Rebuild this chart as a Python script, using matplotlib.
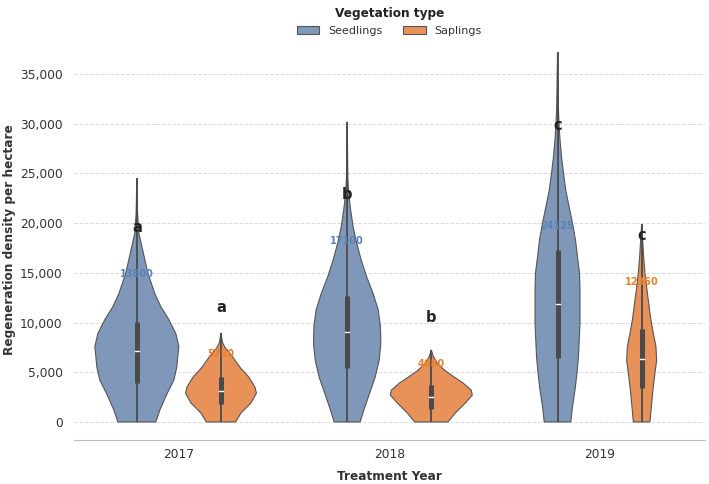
import matplotlib
matplotlib.use("Agg")
import matplotlib.pyplot as plt
from matplotlib.patches import Patch
from matplotlib.ticker import FuncFormatter

years = ["2017", "2018", "2019"]
groups = ["Seedlings", "Saplings"]

# density profiles (value, half width in px)
seed_2017_y = [0, 1200, 2900, 4200, 5500, 7600, 8900, 10300, 11600, 12900, 15000, 17000, 19000, 21000, 24500]
seed_2017_w = [19, 23, 30.5, 37, 40, 42, 39, 32, 24, 18, 11, 6.5, 2, 0.7, 0]
sap_2017_y = [0, 900, 1900, 2900, 3500, 4500, 5500, 6500, 7500, 8000, 8950]
sap_2017_w = [14.7, 20, 30, 35.5, 34, 28, 19, 12, 4, 1.5, 0]

seed_2018_y = [0, 1200, 2900, 4500, 6200, 7900, 9600, 11300, 12900, 14600, 16300, 18000, 19600, 21300, 23000, 24600, 30200]
seed_2018_w = [13, 16.7, 22.5, 28, 32, 33.7, 33.3, 31, 26, 19.5, 14, 9.5, 6, 3.5, 1.5, 0.7, 0]
sap_2018_y = [0, 900, 1900, 2700, 3200, 3900, 4600, 5200, 5900, 6600, 7240]
sap_2018_w = [16.7, 24, 34, 41, 40, 32, 21.7, 13.3, 6, 2, 0]

seed_2019_y = [0, 1540, 3220, 4900, 6600, 9950, 13300, 15000, 16600, 18300, 20000, 21600, 23300, 25000, 26700, 28400, 30000, 31700, 37200]
seed_2019_w = [13.3, 15, 17.5, 19.5, 21, 22.5, 22.5, 22, 20, 18, 15, 11.7, 8.3, 6, 4, 2.5, 1.5, 0.8, 0]
sap_2019_y = [0, 1540, 3220, 4900, 6200, 7600, 8900, 10300, 11600, 13300, 15000, 16600, 18300, 19900]
sap_2019_w = [8.3, 9.7, 11.3, 13.3, 15, 14.3, 11.7, 9.2, 7.5, 5.3, 3.3, 2, 1, 0]

# quartiles (q1, median, q3)
seed_quart = [(3920, 7140, 10060), (5430, 9050, 12670), (6440, 11870, 17300)]
sap_quart = [(1810, 3120, 4530), (1310, 2530, 3720), (3420, 6340, 9350)]

# annotations
seed_letters = ["a", "b", "c"]
sap_letters = ["a", "b", "c"]
seed_letter_y = [19510, 22830, 29870]
sap_letter_y = [11465, 10460, 18710]
seed_labels = ["13800", "17100", "24125"]
sap_labels = ["5750", "4680", "12350"]
seed_label_y = [14880, 18200, 19710]
sap_label_y = [6840, 5830, 14080]

profiles = {
    "Seedlings": [(seed_2017_y, seed_2017_w), (seed_2018_y, seed_2018_w), (seed_2019_y, seed_2019_w)],
    "Saplings": [(sap_2017_y, sap_2017_w), (sap_2018_y, sap_2018_w), (sap_2019_y, sap_2019_w)],
}
quarts = {"Seedlings": seed_quart, "Saplings": sap_quart}
fill = {"Seedlings": "#7f97b8", "Saplings": "#e8925a"}
txtcol = {"Seedlings": "#5a82b5", "Saplings": "#ea7f2c"}
letters = {"Seedlings": (seed_letters, seed_letter_y), "Saplings": (sap_letters, sap_letter_y)}
labels = {"Seedlings": (seed_labels, seed_label_y), "Saplings": (sap_labels, sap_label_y)}
offset = {"Seedlings": -0.2, "Saplings": 0.2}
px = 1 / 210.5  # px -> category units

fig = plt.figure(figsize=(7.09, 4.84), dpi=100)
ax = fig.add_axes([0.104, 0.091, 0.89, 0.828])

for g in groups:
    for i in range(3):
        ys, ws = profiles[g][i]
        xc = i + offset[g]
        xs = [xc - w * px for w in ws] + [xc + w * px for w in ws[::-1]]
        yy = list(ys) + list(ys[::-1])
        ax.fill(xs, yy, facecolor=fill[g], edgecolor="#555555", linewidth=0.8, zorder=2)
        ax.vlines(xc, ys[0], ys[-1], color="#4a4a4a", linewidth=1.3, zorder=3)
        q1, med, q3 = quarts[g][i]
        ax.vlines(xc, q1, q3, color="#4a4a4a", linewidth=3.6, zorder=4)
        ax.plot([xc - 2.0 * px, xc + 2.0 * px], [med, med], color="white", linewidth=1.0, zorder=5)
        let, ly = letters[g]
        ax.text(xc, ly[i], let[i], ha="center", va="center", fontsize=10.5, fontweight="bold", color="#222222", zorder=6)
        lab, lby = labels[g]
        ax.text(xc, lby[i], lab[i], ha="center", va="center", fontsize=7, fontweight="bold", color=txtcol[g], zorder=6)

ax.set_xlim(-0.5, 2.5)
ax.set_ylim(-1810, 38500)
ax.set_xticks(range(3))
ax.set_xticklabels(years)
ax.set_yticks(range(0, 35001, 5000))
ax.yaxis.set_major_formatter(FuncFormatter(lambda v, p: f"{int(v):,}"))
ax.tick_params(axis="both", length=0, labelsize=8.8, labelcolor="#333333")
ax.tick_params(axis="y", pad=8)
ax.tick_params(axis="x", pad=6)
ax.grid(axis="y", color="#dadada", linestyle="--", linewidth=0.7, zorder=0)
ax.set_axisbelow(True)
for s in ["left", "right", "top"]:
    ax.spines[s].set_visible(False)
ax.spines["bottom"].set_color("#bbbbbb")
ax.set_xlabel("Treatment Year", fontsize=8.7, fontweight="bold", color="#333333", labelpad=6)
ax.set_ylabel("Regeneration density per hectare", fontsize=8.7, fontweight="bold", color="#333333", labelpad=2.5)

handles = [Patch(facecolor=fill[g], edgecolor="#555555", linewidth=0.8) for g in groups]
leg = ax.legend(handles, groups, title="Vegetation type", ncol=2, frameon=False,
                loc="lower center", bbox_to_anchor=(0.5, 1.0), fontsize=8,
                title_fontproperties={"weight": "bold", "size": 8.7},
                handlelength=2.0, columnspacing=1.9, borderaxespad=0, borderpad=0.3)
for t in leg.get_texts():
    t.set_color("#333333")
leg.get_title().set_color("#222222")

fig.savefig("out.png", dpi=100)
